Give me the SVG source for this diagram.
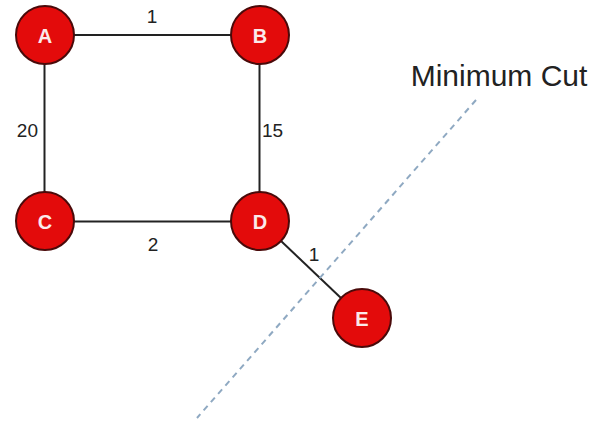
<svg xmlns="http://www.w3.org/2000/svg" width="592" height="422" viewBox="0 0 592 422">
<style>
.node circle{fill:#e30b0b;stroke:#4a0a0a;stroke-width:2}
.node text{fill:#fbeaea;font-family:"Liberation Sans",Arial,sans-serif;font-weight:bold;font-size:20px;text-anchor:middle}
.edge{stroke:#222;stroke-width:2;fill:none}
.lbl{fill:#222;font-family:"Liberation Sans",Arial,sans-serif;font-size:19px}
.cut{stroke:#8fa9c2;stroke-width:2;stroke-dasharray:6 5;fill:none}
</style>
<rect width="592" height="422" fill="#fff"/>
<g id="connectors">
<line class="edge" x1="45" y1="35" x2="260" y2="35"/>
<line class="edge" x1="44.5" y1="35" x2="44.5" y2="221"/>
<line class="edge" x1="259.5" y1="35" x2="259.5" y2="221"/>
<line class="edge" x1="45" y1="221.5" x2="260" y2="221.5"/>
<line class="edge" x1="260" y1="221" x2="362" y2="318"/>
<text class="lbl" x="152" y="23" text-anchor="middle">1</text>
<text class="lbl" x="38" y="137" text-anchor="end">20</text>
<text class="lbl" x="262" y="137">15</text>
<text class="lbl" x="153" y="251" text-anchor="middle">2</text>
<text class="lbl" x="314" y="261" text-anchor="middle">1</text>
</g>
<g id="cut">
<line class="cut" x1="476" y1="100" x2="197" y2="418"/>
<text x="499" y="86" text-anchor="middle" font-family="'Liberation Sans',Arial,sans-serif" font-size="30" fill="#222">Minimum Cut</text>
</g>
<g id="node-A" class="node"><circle cx="45" cy="35" r="29"/><text x="45" y="42.5">A</text></g>
<g id="node-B" class="node"><circle cx="260" cy="35" r="29"/><text x="260" y="42.5">B</text></g>
<g id="node-C" class="node"><circle cx="45" cy="221" r="29"/><text x="45" y="228.5">C</text></g>
<g id="node-D" class="node"><circle cx="260" cy="221" r="29"/><text x="260" y="228.5">D</text></g>
<g id="node-E" class="node"><circle cx="362" cy="318" r="29"/><text x="362" y="326">E</text></g>
</svg>
